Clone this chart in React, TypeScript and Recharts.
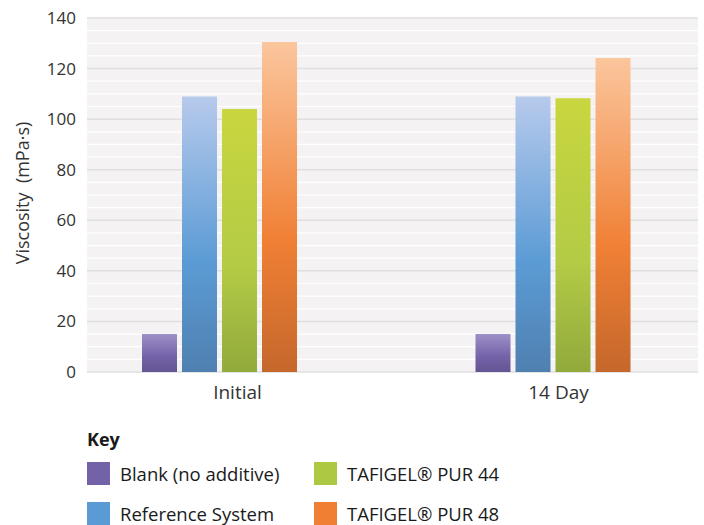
import React from 'react';
import { BarChart, Bar, XAxis, YAxis, CartesianGrid } from 'recharts';

const categories = ['Initial', '14 Day'];
const blank = [15, 15];
const reference = [109, 109];
const pur44 = [104, 108.3];
const pur48 = [130.5, 124.2];
const yTicks = [0, 20, 40, 60, 80, 100, 120, 140];
const minorTicks = [5, 10, 15, 25, 30, 35, 45, 50, 55, 65, 70, 75, 85, 90, 95, 105, 110, 115, 125, 130, 135];
const yMax = 140;

const series = [
  { key: 'blank', name: 'Blank (no additive)', swatch: '#7462a8', stops: ['#9e90c8', '#7462a8', '#655492'] },
  { key: 'reference', name: 'Reference System', swatch: '#5b9bd5', stops: ['#b7caec', '#5b9bd5', '#4f80b0'] },
  { key: 'pur44', name: 'TAFIGEL® PUR 44', swatch: '#adc843', stops: ['#c9d63f', '#b3cb45', '#91aa3c'] },
  { key: 'pur48', name: 'TAFIGEL® PUR 48', swatch: '#f07f34', stops: ['#fbc69d', '#f08035', '#c5672b'] },
];

const data = categories.map((name, i) => ({
  name,
  blank: blank[i],
  reference: reference[i],
  pur44: pur44[i],
  pur48: pur48[i],
}));

const font = '"Open Sans", sans-serif';
const textColor = '#333';

// pixel rows for the minor (every 5) white lines
const minorLines = (props: any) => {
  const s = props?.yAxis?.scale;
  if (typeof s === 'function') return minorTicks.map((t) => s(t));
  const top = props?.offset?.top ?? 0;
  const h = props?.offset?.height ?? 0;
  return minorTicks.map((t) => top + h * (1 - t / yMax));
};

export default function App() {
  return (
    <div style={{ position: 'absolute', left: 0, top: 0, width: 704, height: 525, background: '#fff', fontFamily: font }}>
      <BarChart
        width={704}
        height={420}
        data={data}
        margin={{ top: 18, right: 6, left: 27, bottom: 18 }}
        barGap={5}
      >
        <defs>
          {series.map((s) => (
            <linearGradient key={s.key} id={`g-${s.key}`} x1="0" y1="0" x2="0" y2="1">
              <stop offset="0%" stopColor={s.stops[0]} />
              <stop offset="60%" stopColor={s.stops[1]} />
              <stop offset="100%" stopColor={s.stops[2]} />
            </linearGradient>
          ))}
        </defs>
        {/* background with thin white minor lines every 5 */}
        <CartesianGrid
          vertical={false}
          stroke="#ffffff"
          strokeWidth={1.2}
          fill="#f4f2f3"
          horizontalCoordinatesGenerator={minorLines}
        />
        <CartesianGrid vertical={false} stroke="#e0dfe0" strokeWidth={1.5} />
        {/* axis carrying the visible category labels */}
        <XAxis
          xAxisId="labels"
          dataKey="name"
          axisLine={false}
          tickLine={false}
          height={30}
          padding={{ left: -10, right: -21 }}
          tick={{ fill: textColor, fontSize: 19, fontFamily: font }}
          tickMargin={8}
        />
        {/* axis the bars sit on */}
        <XAxis dataKey="name" hide height={0} padding={{ left: -34, right: -22 }} />
        <YAxis
          domain={[0, yMax]}
          ticks={yTicks}
          axisLine={false}
          tickLine={false}
          width={60}
          tick={{ fill: textColor, fontSize: 17, fontFamily: font }}
          tickMargin={5}
        />
        {series.map((s) => (
          <Bar key={s.key} dataKey={s.key} name={s.name} fill={`url(#g-${s.key})`} barSize={35} isAnimationActive={false} />
        ))}
        <text
          x={29}
          y={193}
          transform="rotate(-90 29 193)"
          textAnchor="middle"
          fill={textColor}
          fontSize={18}
          fontFamily={font}
          style={{ whiteSpace: 'pre' }}
        >
          {'Viscosity  (mPa·s)'}
        </text>
      </BarChart>
      <div style={{ position: 'absolute', left: 87, top: 427, color: '#1a1a1a', fontSize: 18, fontWeight: 700 }}>Key</div>
      {series.map((s, i) => (
        <div
          key={s.key}
          style={{
            position: 'absolute',
            left: i < 2 ? 87 : 314,
            top: i % 2 === 0 ? 462 : 502,
            display: 'flex',
            alignItems: 'center',
            height: 23,
            fontSize: 18.5,
            lineHeight: '20px',
            color: '#1a1a1a',
          }}
        >
          <span style={{ display: 'inline-block', width: 23, height: 23, background: s.swatch, marginRight: 10 }} />
          <span style={{ whiteSpace: 'pre' }}>{s.name}</span>
        </div>
      ))}
    </div>
  );
}
